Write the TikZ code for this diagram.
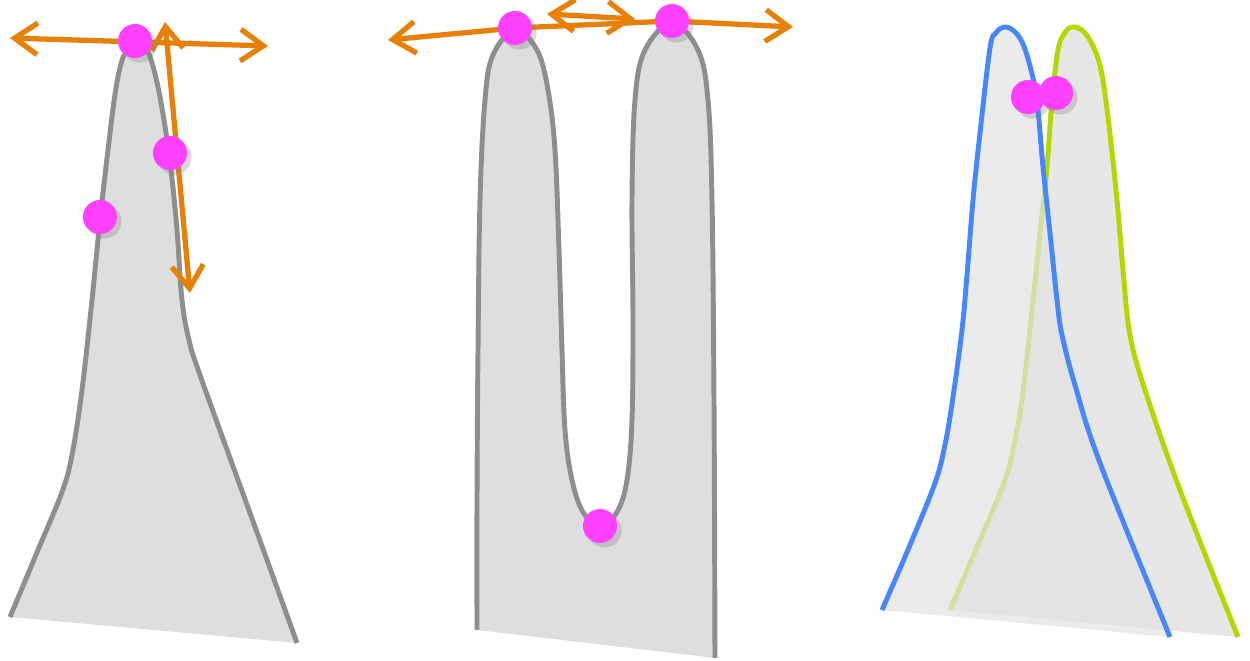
\documentclass[tikz,border=0pt]{standalone}
\usepackage{xcolor}
\usepackage{tikz}
\usetikzlibrary{arrows.meta, shadows}
\definecolor{peakgray}{RGB}{222,222,222}
\definecolor{edgegray}{RGB}{142,142,142}
\definecolor{moveorange}{RGB}{232,128,8}
\definecolor{dotpink}{RGB}{255,64,255}
\definecolor{ridgeblue}{RGB}{70,135,255}
\definecolor{ridgegreen}{RGB}{180,215,0}
\definecolor{paleblue}{RGB}{226,226,226}
\definecolor{palegreen}{RGB}{231,231,231}
% fill style, line style, outline points
\newcommand{\ridge}[3]{%
  \fill[#1] plot[smooth, tension=.6] coordinates {#3} -- cycle;
  \draw[#2] plot[smooth, tension=.6] coordinates {#3};}

\begin{document}
\begin{tikzpicture}[x=0.01cm, y=-0.01cm,
    outline/.style={line width=1.4pt, edgegray},
    blueline/.style={line width=1.4pt, ridgeblue},
    greenline/.style={line width=1.4pt, ridgegreen},
    dot/.style={circle, fill=dotpink, minimum size=0.34cm, inner sep=0pt,
                drop shadow={shadow xshift=1.3pt, shadow yshift=-1.3pt, opacity=.3}},
    move/.style={line width=1.5pt, moveorange, line cap=round},
    barb/.tip={Straight Barb[length=6.5pt, width=9pt]}]

    \useasboundingbox (0,0) rectangle (1250,661);

    % --- Single peak ---
    \ridge{peakgray}{outline}{(10,617) (38,550) (62,492) (72,455) (82,390)
      (92,300) (100,220) (108,150) (116,88) (124,55) (135,42) (147,50) (156,78)
      (164,120) (171,170) (177,230) (182,300) (189,340) (200,375) (250,513) (297,643)}

    \coordinate (top1) at (135,41);
    \coordinate (side1) at (170,153);
    \coordinate (low1) at (100,217);
    \coordinate (west1) at (10,38);
    \coordinate (east1) at (268,46);
    \coordinate (up1) at (165,22);
    \coordinate (down1) at (190,293);

    \draw[move, barb-barb] (west1) -- (east1);
    \draw[move, barb-barb] (up1) -- (down1);

    \node[dot] (d1) at (top1) {};
    \node[dot] (d2) at (side1) {};
    \node[dot] (d3) at (low1) {};

    % --- Two peaks ---
    \ridge{peakgray}{outline}{(477,630) (477,500) (478,350) (480,200) (485,100)
      (493,55) (515,30) (537,50) (548,90) (555,150) (559,250) (562,350)
      (565,430) (572,480) (583,512) (600,527) (617,512) (627,480) (632,420)
      (633,320) (632,200) (635,100) (645,50) (672,23) (698,50) (708,100)
      (712,200) (714,400) (715,658)}

    \coordinate (top2) at (515,28);
    \coordinate (top3) at (672,21);
    \coordinate (valley) at (600,526);
    \coordinate (west2) at (388,40);
    \coordinate (east2) at (793,27);
    \coordinate (gapl) at (547,14);
    \coordinate (gapr) at (635,19);

    \draw[move, -barb] (top2) -- (west2);
    \draw[move] (top2) -- (top3);
    \draw[move, barb-barb] (gapl) -- (gapr);
    \draw[move, -barb] (top3) -- (east2);

    \node[dot] (d4) at (top2) {};
    \node[dot] (d5) at (top3) {};
    \node[dot] (d6) at (valley) {};

    % --- Shifted peaks ---
    \ridge{palegreen}{greenline}{(950,610) (980,540) (1005,480) (1015,440)
      (1022,400) (1030,330) (1040,233) (1047,167) (1052,100) (1058,50)
      (1064,34) (1072,27) (1083,31) (1093,46) (1101,70) (1108,117) (1117,200)
      (1123,270) (1130,335) (1145,390) (1180,490) (1238,637)}
    \ridge{paleblue, opacity=.7}{blueline}{(882,610) (910,545) (935,483) (945,445)
      (953,397) (962,330) (967,275) (973,200) (980,133) (990,48) (996,33)
      (1004,27) (1014,31) (1023,44) (1031,70) (1037,100) (1043,167) (1050,233)
      (1057,300) (1062,335) (1075,385) (1100,463) (1170,637)}

    \node[dot] (d7) at (1028,97) {};
    \node[dot] (d8) at (1056,93) {};
\end{tikzpicture}
\end{document}
